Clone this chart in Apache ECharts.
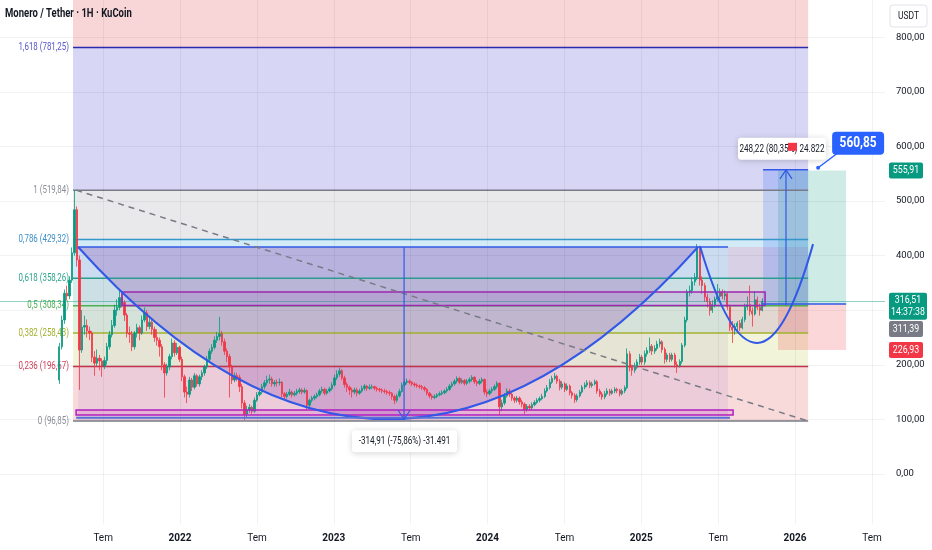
<!DOCTYPE html>
<html><head><meta charset="utf-8">
<script src="https://cdn.jsdelivr.net/npm/echarts@6/dist/echarts.min.js"></script>
<style>html,body{margin:0;padding:0;background:#fff}#c{width:932px;height:550px}</style>
</head><body><div id="c"></div>
<script>
// ---------------- data ----------------
const firstOpen = 172;
const firstCandleYear = 2021.215;
const candleStepYears = 0.01627;
const closes = [
233,282,331,326,355,405,484,392,227,269,
272,262,258,214,203,212,207,198,208,233,
255,272,300,305,323,314,291,258,256,233,
258,268,258,282,295,270,278,265,250,245,
233,200,185,196,215,240,222,232,210,178,
150,146,172,159,180,165,178,185,196,210,
225,232,245,252,257,242,225,215,196,172,
180,177,160,130,110,
117,122,115,135,145,150,160,167,172,174,
165,168,167,168,147,142,146,150,145,148,
151,154,150,153,126,135,139,142,145,152,
155,148,152,156,163,176,183,189,176,164,
159,154,150,154,148,152,157,161,157,159,
160,157,155,154,152,151,149,148,142,135,
143,151,163,168,170,168,165,163,161,160,
158,155,148,143,140,142,145,147,149,152,
155,161,165,170,175,168,171,166,170,173,
177,169,166,170,173,150,147,152,155,160,
166,123,130,143,152,146,139,135,139,132,
128,118,124,121,127,131,135,138,142,152,
158,168,175,179,170,159,165,155,161,149,
144,136,143,150,159,163,167,162,165,169,
152,146,141,147,152,148,152,155,153,147,
152,158,220,195,190,198,205,214,205,220,
226,234,225,230,238,242,228,210,218,210,
218,200,198,206,236,282,333,336,352,360,
416,355,345,324,316,300,310,320,325,333,
326,330,306,269,264,270,276,268,283,306,
310,298,293,319,305,300,316.51
];
const highs = [
240,290,338,345,362,415,520,490,400,300,
290,283,270,262,225,228,218,212,215,240,
262,282,310,320,337,332,318,295,270,262,
262,275,272,290,305,300,288,285,270,265,
250,238,205,202,220,248,245,240,235,215,
182,160,178,176,185,183,182,190,200,216,
230,238,252,260,288,262,248,230,220,200,
186,185,182,165,135,
125,128,125,140,150,156,165,172,180,182,
178,172,173,175,170,150,150,156,153,152,
156,158,157,158,155,138,143,146,149,156,
160,158,156,160,168,182,190,195,192,180,
168,162,158,158,158,156,162,165,163,164,
164,162,160,158,157,156,154,153,150,145,
147,156,168,173,175,173,170,168,166,164,
163,161,157,150,146,146,148,151,153,155,
159,165,169,174,179,178,175,174,174,177,
181,179,172,174,177,175,155,156,159,164,
170,168,136,148,157,156,149,142,143,142,
136,131,128,128,131,135,139,142,147,157,
163,174,180,185,182,174,170,168,166,164,
152,148,147,154,163,168,172,171,169,173,
172,156,150,152,157,156,156,159,158,156,
156,162,230,225,200,204,210,220,218,226,
232,250,238,236,244,248,245,232,222,222,
222,222,206,210,240,288,338,345,360,368,
421,418,362,350,330,322,318,325,348,340,
338,336,332,310,280,276,280,282,288,312,
325,345,305,335,325,312,322
];
const lows = [
165,228,275,318,320,350,400,380,154,222,
255,250,245,205,180,198,190,178,192,200,
228,250,268,290,300,305,280,250,240,225,
228,250,245,255,278,262,265,255,242,235,
215,190,140,180,190,210,215,218,205,170,
140,130,140,152,155,160,160,172,180,192,
205,220,228,240,245,235,218,205,140,165,
168,170,150,120,99,
104,112,110,112,132,142,146,155,162,165,
160,160,160,162,140,136,138,143,140,142,
144,147,146,147,118,122,131,135,138,142,
148,144,145,149,153,160,172,178,172,158,
150,145,140,146,142,145,149,153,152,154,
155,153,151,150,148,147,145,143,136,128,
131,140,149,160,164,164,161,159,158,156,
154,151,144,139,136,137,139,142,144,146,
149,152,158,162,166,164,165,162,163,166,
169,165,161,163,166,145,141,144,148,152,
156,108,115,126,140,141,134,130,131,127,
122,110,114,116,118,124,128,131,135,139,
149,155,165,172,165,153,155,150,152,144,
138,130,132,140,147,155,159,157,158,162,
147,141,136,137,144,143,145,148,148,142,
144,148,155,188,180,185,192,200,200,200,
215,222,218,220,226,232,222,202,205,205,
206,195,185,195,202,232,278,325,330,345,
355,345,330,315,305,290,295,305,316,318,
320,318,300,262,240,255,262,262,265,278,
300,290,270,290,300,290,298
];

// axis ticks
const xTickValues = [2021.5,2022,2022.5,2023,2023.5,2024,2024.5,2025,2025.5,2026,2026.5];
const xTickLabels = ['Tem','2022','Tem','2023','Tem','2024','Tem','2025','Tem','2026','Tem'];
const yTickValues = [0,100,200,300,400,500,600,700,800];

// fibonacci retracement
const fibStartYear = 2021.304, fibEndYear = 2026.085;
const fibRatios = ['0','0,236','0,382','0,5','0,618','0,786','1','1,618'];
const fibPrices = [96.85,196.67,258.43,308.34,358.26,429.32,519.84,781.25];
const fibPriceTexts = ['96,85','196,67','258,43','308,34','358,26','429,32','519,84','781,25'];
const fibTopPrice = 1204.1;

// drawings (year, price)
const cupBox = [2021.337, 2025.564, 96.85, 415.8];
const handleZone = [2025.564, 2026.085, 258.43, 415.8];
const rangeBox = [2025.792, 2026.085, 308.9, 557.1];
const targetBox = [2025.889, 2026.332, 311.39, 555.91];
const stopBox = [2025.889, 2026.332, 226.93, 311.39];
const resistanceBox = [2021.623, 2025.805, 308.6, 333.3];
const baseBox = [2021.324, 2025.597, 108, 117];
const cupArc = [2021.337, 415.8, 2023.353, 100.5, 2025.369, 415.8];
const handleArc = [2025.382, 417, 2025.753, 240, 2026.117, 421];
const cupRim = [[2021.337, 415.8],[2025.564, 415.8]];
const fibTrend = [[2021.324, 519.84],[2026.085, 96.85]];
const baseLine = [[2021.324, 103],[2025.577, 103]];
const entryLine = [[2025.785, 311.39],[2026.332, 311.39]];
const rangeTop = [[2025.792, 557.1],[2026.085, 557.1]];
const measures = [[2023.457, 415.12, 100.21],[2025.941, 308.9, 557.1]];
const measureTexts = ['-314,91 (-75,86%) -31.491', '248,22 (80,35%) 24.822'];
const callout = [2026.150, 560.85];
const calloutText = '560,85';
const lastPrice = 316.51;
const tagPrices = [555.91, 316.51, 311.39, 226.93];
const tagTexts = ['555,91', '316,51\n14:37:38', '311,39', '226,93'];
const title = 'Monero / Tether · 1H · KuCoin';

// ---------------- styles ----------------
const FONT = "Roboto,'Noto Sans',sans-serif";
const SQ = 0.74; // horizontal squeeze of the reference typography
const fibLineColors = ['#787b86','#c2334d','#a3b02c','#4caf50','#2a9d8f','#3596c9','#787b86','#2b2bb0'];
const fibLabelColors = ['#8a8d96','#d0405a','#a3b02c','#4caf50','#2aa58a','#3d8ec9','#8a8d96','#5555cc'];
const fibZoneColors = ['#f8dadb','#f1f4d8','#dff2dd','#d4efe9','#d3ebf6','#e9e9eb','#d7d6f4','#f8d5d7'];
const tagColors = ['#089981','#089981','#787b86','#f23645'];
const tagShift = [0, 5, 25, 0];
const tagHeights = [16, 27, 16, 16];
const tagWidths = [34, 38, 34, 34];
const measureBox = [{dx:0.5, dy:22, w:105}, {dx:-4, dy:-21, w:88}];

// ---------------- build ----------------
const candleData = closes.map((c, i) => {
  const o = i === 0 ? firstOpen : closes[i - 1];
  return [firstCandleYear + i * candleStepYears, o, c, lows[i], highs[i]];
});
const fmt = v => v.toFixed(2).replace('.', ',');

const zoneData = fibPrices.map((p, i) => [fibStartYear, fibEndYear, p, i < fibPrices.length - 1 ? fibPrices[i + 1] : fibTopPrice]);
const fibLineData = fibPrices.map(p => [fibStartYear, fibEndYear, p]);

function rectRender(styles) {
  return function (params, api) {
    const p1 = api.coord([api.value(0), api.value(3)]);
    const p2 = api.coord([api.value(1), api.value(2)]);
    return {type: 'rect', shape: {x: p1[0], y: p1[1], width: p2[0] - p1[0], height: p2[1] - p1[1]},
      style: styles[params.dataIndex % styles.length]};
  };
}
function rectSeries(name, data, styles, z, clip) {
  return {type: 'custom', name, data, z, silent: true, clip: clip !== false,
    encode: {x: [0, 1], y: [2, 3]}, renderItem: rectRender(styles)};
}
function quadCtrl(a, b, c) {
  return {cx: 2 * b[0] - (a[0] + c[0]) / 2, cy: 2 * b[1] - (a[1] + c[1]) / 2};
}
function arcRender(mode) {
  return function (params, api) {
    const a = api.coord([api.value(0), api.value(1)]);
    const b = api.coord([api.value(2), api.value(3)]);
    const c = api.coord([api.value(4), api.value(5)]);
    const q = quadCtrl(a, b, c);
    if (mode === 'fill') {
      const pts = [];
      for (let k = 0; k <= 60; k++) {
        const t = k / 60, u = 1 - t;
        pts.push([u*u*a[0] + 2*u*t*q.cx + t*t*c[0], u*u*a[1] + 2*u*t*q.cy + t*t*c[1]]);
      }
      return {type: 'polygon', shape: {points: pts}, style: {fill: 'rgba(130,60,175,0.26)'}};
    }
    return {type: 'bezierCurve', shape: {x1: a[0], y1: a[1], x2: c[0], y2: c[1], cpx1: q.cx, cpy1: q.cy},
      style: {stroke: '#3158e6', lineWidth: 2, fill: 'none'}};
  };
}
function lineSeries(data, style, z) {
  return {type: 'line', data, symbol: 'none', silent: true, z, lineStyle: style, animation: false};
}

const option = {
  animation: false,
  backgroundColor: '#ffffff',
  textStyle: {fontFamily: FONT},
  grid: {left: 0, right: 47, top: 0, bottom: 26},
  xAxis: {
    type: 'value', min: 2020.829, max: 2026.585,
    axisLine: {show: false}, axisTick: {show: false}, splitLine: {show: false},
    axisLabel: {
      customValues: xTickValues, margin: 9, fontSize: 10, color: '#131722', fontFamily: FONT,
      formatter: v => {
        let k = -1;
        xTickValues.forEach((t, i) => { if (Math.abs(t - v) < 1e-6) k = i; });
        if (k < 0) return '';
        const s = xTickLabels[k];
        return /^\d+$/.test(s) ? '{b|' + s + '}' : s;
      },
      rich: {b: {fontWeight: 'bold', fontSize: 10, color: '#131722', fontFamily: FONT}}
    }
  },
  yAxis: {
    type: 'value', position: 'right', min: -91.6, max: 868.1, splitNumber: 10,
    axisLine: {show: false}, axisTick: {show: false}, splitLine: {show: false},
    axisLabel: {margin: 11, fontSize: 9.5, color: '#131722', fontFamily: FONT,
      showMinLabel: false, showMaxLabel: false,
      formatter: v => yTickValues.some(t => Math.abs(t - v) < 1e-6) ? fmt(v) : ''}
  },
  graphic: [
    {type: 'text', x: 5, y: 7, scaleX: 0.76, z: 20, style: {text: title, fontSize: 12.5, fontWeight: 'bold', fill: '#131722', fontFamily: FONT, verticalAlign: 'top'}},
    {type: 'rect', x: 890, y: 5, z: 20, shape: {width: 37, height: 22, r: 3}, style: {fill: '#fff', stroke: '#e0e3eb', lineWidth: 1}},
    {type: 'text', x: 908.5, y: 16, scaleX: 0.85, z: 21, style: {text: 'USDT', fontSize: 10, fill: '#131722', fontFamily: FONT, align: 'center', verticalAlign: 'middle'}}
  ],
  series: [
    // fib zones + faint grid
    Object.assign(rectSeries('fibZones', zoneData, fibZoneColors.map(c => ({fill: c})), 1, true), {
      markLine: {silent: true, symbol: ['none', 'none'], label: {show: false},
        lineStyle: {color: 'rgba(0,0,0,0.05)', width: 1, type: 'solid'},
        data: yTickValues.map(v => ({yAxis: v})).concat(xTickValues.map(v => ({xAxis: v})))}
    }),
    rectSeries('cupBox', [cupBox], [{fill: 'rgba(120,70,190,0.09)'}], 2),
    {type: 'custom', name: 'cupFill', data: [cupArc], z: 2, silent: true, clip: true,
      encode: {x: [0, 2, 4], y: [1, 3, 5]}, renderItem: arcRender('fill')},
    rectSeries('handleZone', [handleZone], [{fill: 'rgba(235,120,170,0.22)'}], 2),
    rectSeries('target', [targetBox], [{fill: 'rgba(8,153,129,0.2)'}], 2),
    rectSeries('stop', [stopBox], [{fill: 'rgba(242,54,69,0.2)'}], 2),
    rectSeries('range', [rangeBox], [{fill: 'rgba(41,98,255,0.2)'}], 2),
    // fib lines
    {type: 'custom', name: 'fibLines', data: fibLineData, z: 3, silent: true, clip: true,
      encode: {x: [0, 1], y: 2},
      renderItem: (params, api) => {
        const a = api.coord([api.value(0), api.value(2)]);
        const b = api.coord([api.value(1), api.value(2)]);
        return {type: 'line', shape: {x1: a[0], y1: a[1], x2: b[0], y2: b[1]},
          style: {stroke: fibLineColors[params.dataIndex], lineWidth: 1.5}};
      }},
    // fib labels
    {type: 'custom', name: 'fibLabels', data: fibLineData, z: 3, silent: true, clip: false,
      encode: {x: 0, y: 2},
      renderItem: (params, api) => {
        const i = params.dataIndex;
        const a = api.coord([api.value(0), api.value(2)]);
        return {type: 'text', x: a[0] - 4, y: a[1], scaleX: 0.72, style: {
          text: fibRatios[i] + ' (' + fibPriceTexts[i] + ')', fill: fibLabelColors[i],
          fontSize: 11, fontFamily: FONT, align: 'right', verticalAlign: 'middle'}};
      }},
    // candles
    {type: 'candlestick', name: 'XMR/USDT', data: candleData, z: 4, barWidth: 1.8, barMinWidth: 1.8,
      encode: {x: 0, y: [1, 2, 3, 4]},
      itemStyle: {color: '#089981', color0: '#f23645', borderColor: '#089981', borderColor0: '#f23645', borderWidth: 0.8},
      markLine: {silent: true, symbol: ['none', 'none'], label: {show: false},
        lineStyle: {color: '#089981', opacity: 0.45, type: 'solid', width: 1},
        data: [{yAxis: lastPrice}]}},
    rectSeries('resistance', [resistanceBox], [{fill: 'rgba(156,39,176,0.12)', stroke: '#9c27b0', lineWidth: 1.5}], 5),
    rectSeries('base', [baseBox], [{fill: 'rgba(200,40,200,0.15)', stroke: '#b01fc0', lineWidth: 1.5}], 5),
    lineSeries(cupRim, {color: '#3158e6', width: 1.5}, 5),
    lineSeries(fibTrend, {color: '#787b86', width: 1.5, type: [6, 5]}, 5),
    lineSeries(baseLine, {color: '#5a6fd8', width: 2}, 5),
    lineSeries(entryLine, {color: '#3158e6', width: 1.5}, 5),
    lineSeries(rangeTop, {color: '#3158e6', width: 1.5}, 5),
    {type: 'custom', name: 'arcs', data: [cupArc, handleArc], z: 5, silent: true, clip: true,
      encode: {x: [0, 2, 4], y: [1, 3, 5]}, renderItem: arcRender('stroke')},
    // measures
    {type: 'custom', name: 'measures', data: measures, z: 6, silent: true, clip: false,
      encode: {x: 0, y: [1, 2]},
      renderItem: (params, api) => {
        const i = params.dataIndex;
        const p0 = api.coord([api.value(0), api.value(1)]);
        const p1 = api.coord([api.value(0), api.value(2)]);
        const dir = p1[1] > p0[1] ? 1 : -1;
        const mb = measureBox[i];
        const cx = p1[0] + mb.dx, cy = p1[1] + mb.dy;
        const children = [
          {type: 'line', shape: {x1: p0[0], y1: p0[1], x2: p1[0], y2: p1[1]}, style: {stroke: '#3158e6', lineWidth: 1.2}},
          {type: 'polyline', shape: {points: [[p1[0] - 6, p1[1] - dir * 9], [p1[0], p1[1]], [p1[0] + 6, p1[1] - dir * 9]]},
            style: {stroke: '#3158e6', lineWidth: 1.2, fill: 'none'}},
          {type: 'rect', shape: {x: cx - mb.w / 2, y: cy - 11, width: mb.w, height: 22, r: 3},
            style: {fill: '#ffffff', shadowBlur: 6, shadowColor: 'rgba(0,0,0,0.18)', shadowOffsetY: 1}},
          {type: 'text', x: cx, y: cy, scaleX: SQ, style: {text: measureTexts[i], fontSize: 11, fill: '#131722',
            fontFamily: FONT, align: 'center', verticalAlign: 'middle'}}
        ];
        if (i === 1) children.push({type: 'rect', shape: {x: p1[0] + 2, y: p1[1] - 27, width: 9, height: 8}, style: {fill: '#f23645'}});
        return {type: 'group', children};
      }},
    // callout
    {type: 'custom', name: 'callout', data: [callout], z: 7, silent: true, clip: false,
      encode: {x: 0, y: 1},
      renderItem: (params, api) => {
        const p = api.coord([api.value(0), api.value(1)]);
        return {type: 'group', children: [
          {type: 'line', shape: {x1: p[0], y1: p[1], x2: p[0] + 20, y2: p[1] - 15}, style: {stroke: '#2962ff', lineWidth: 1.5}},
          {type: 'circle', shape: {cx: p[0], cy: p[1], r: 2}, style: {fill: '#2962ff'}},
          {type: 'rect', shape: {x: p[0] + 14, y: p[1] - 36, width: 52, height: 23, r: 4}, style: {fill: '#2962ff'}},
          {type: 'text', x: p[0] + 40, y: p[1] - 24.5, scaleX: 0.85, style: {text: calloutText, fill: '#ffffff', fontSize: 14,
            fontWeight: 'bold', fontFamily: FONT, align: 'center', verticalAlign: 'middle'}}
        ]};
      }},
    // axis price tags
    {type: 'custom', name: 'tags', data: tagPrices.map(p => [2026.0, p]), z: 8, silent: true, clip: false,
      encode: {x: 0, y: 1},
      renderItem: (params, api) => {
        const i = params.dataIndex;
        const cs = params.coordSys;
        const y = api.coord([api.value(0), api.value(1)])[1] + tagShift[i];
        const h = tagHeights[i], w = tagWidths[i];
        const x = cs.x + cs.width + 4;
        return {type: 'group', children: [
          {type: 'rect', shape: {x, y: y - h / 2, width: w, height: h, r: 2}, style: {fill: tagColors[i]}},
          {type: 'text', x: x + w / 2, y, scaleX: 0.8, style: {text: tagTexts[i], fill: '#ffffff', fontSize: 11, lineHeight: 12,
            fontFamily: FONT, align: 'center', verticalAlign: 'middle'}}
        ]};
      }}
  ]
};

const chart = echarts.init(document.getElementById('c'));
chart.setOption(option);
</script>
</body></html>
